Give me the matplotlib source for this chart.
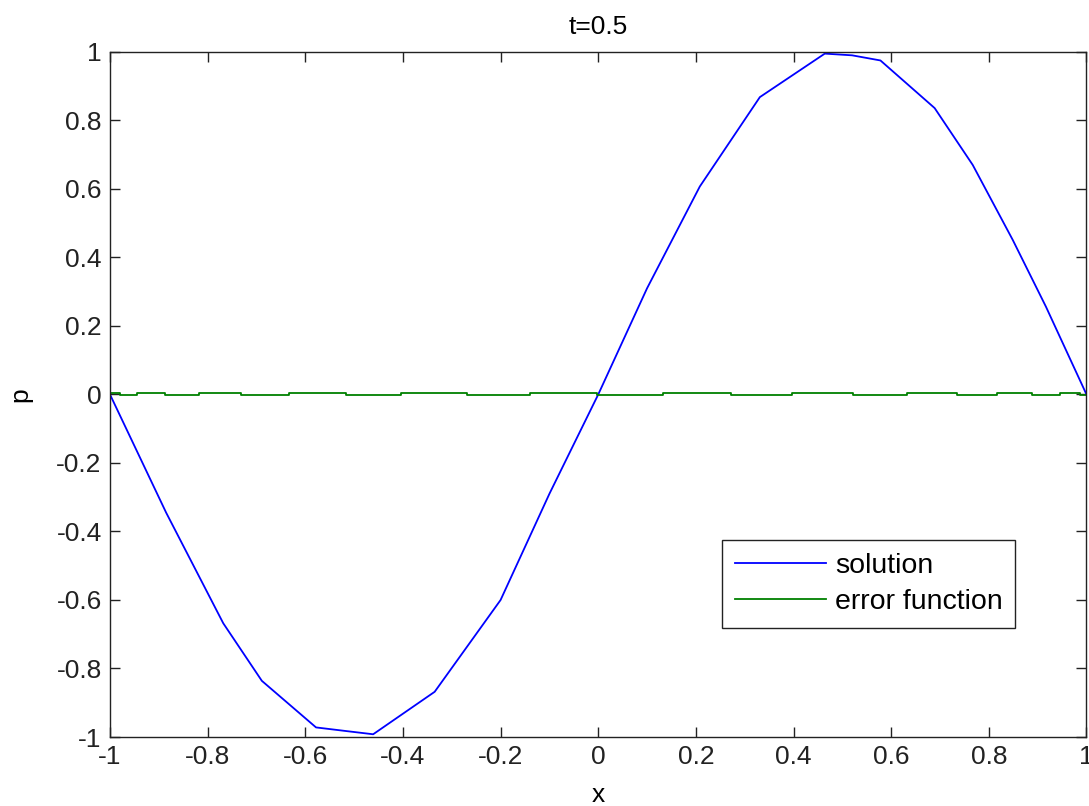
import numpy as np
import matplotlib
matplotlib.use('Agg')
import matplotlib.pyplot as plt

plt.rcParams['font.family'] = ['Liberation Sans', 'DejaVu Sans']

# solution curve (vertices)
sol_x = [-1.0, -0.885, -0.768, -0.689, -0.578, -0.52, -0.461, -0.335, -0.2, -0.1, 0.0,
         0.1, 0.208, 0.331, 0.464, 0.52, 0.578, 0.689, 0.767, 0.849, 0.917, 1.0]
sol_y = [0.0, -0.345, -0.668, -0.836, -0.972, -0.982, -0.992, -0.868, -0.6, -0.29, 0.0,
         0.31, 0.607, 0.868, 0.995, 0.99, 0.975, 0.836, 0.67, 0.451, 0.256, 0.0]

# error function: tiny wiggle around zero
err_x = [-1.0, -0.980, -0.945, -0.887, -0.818, -0.732, -0.634, -0.517, -0.404, -0.269,
         -0.140, -0.003, 0.132, 0.271, 0.396, 0.521, 0.632, 0.734, 0.816, 0.889,
         0.945, 0.986, 1.0]
err_y = [0.003, -0.003, 0.003, -0.003, 0.003, -0.003, 0.003, -0.003, 0.003, -0.003,
         0.003, -0.003, 0.003, -0.003, 0.003, -0.003, 0.003, -0.003, 0.003, -0.003,
         0.003, -0.003, -0.003]

xticks = [-1, -0.8, -0.6, -0.4, -0.2, 0, 0.2, 0.4, 0.6, 0.8, 1]
yticks = [-1, -0.8, -0.6, -0.4, -0.2, 0, 0.2, 0.4, 0.6, 0.8, 1]

fig = plt.figure(figsize=(10.89, 8.06), dpi=100)
ax = fig.add_axes([0.101, 0.0856, 0.8967, 0.85])

ax.plot(sol_x, sol_y, color='#0000ff', lw=1.3, label='solution')
ax.plot(err_x, err_y, color='#008000', lw=1.3, drawstyle='steps-post', label='error function')

ax.set_xlim(-1, 1)
ax.set_ylim(-1, 1)
ax.set_xticks(xticks)
ax.set_yticks(yticks)
ax.set_xticklabels([f'{v:g}' for v in xticks])
ax.set_yticklabels([f'{v:g}' for v in yticks])
ax.tick_params(direction='in', length=7, width=1, top=True, right=True,
               labelsize=19, pad=6, colors='#222222')
for s in ax.spines.values():
    s.set_linewidth(1)
    s.set_color('#222222')

ax.set_title('t=0.5', fontsize=19, pad=13)
ax.set_xlabel('x', fontsize=19, labelpad=10)
ax.set_ylabel('p', fontsize=19, labelpad=17)

leg = ax.legend(loc='lower left', bbox_to_anchor=(0.627, 0.159), borderaxespad=0,
                fontsize=20.5, fancybox=False, edgecolor='#222222', framealpha=1,
                handlelength=3.2, borderpad=0.45, labelspacing=0.35, handletextpad=0.3)
leg.get_frame().set_linewidth(1)

fig.savefig('out.png', dpi=100)
